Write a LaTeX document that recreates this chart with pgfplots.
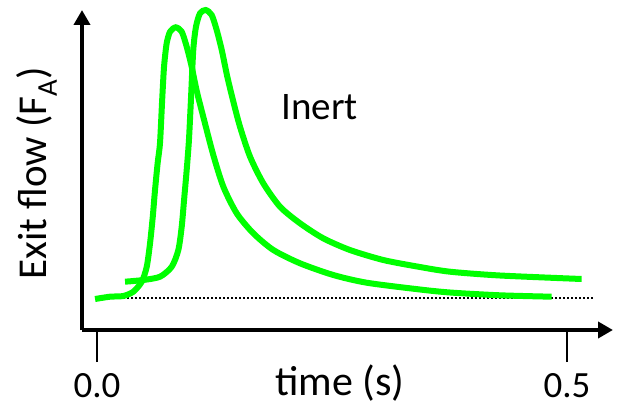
\documentclass[border=0pt]{standalone}
\usepackage{fontspec}
\setmainfont{Carlito}
\usepackage{pgfplots}
\pgfplotsset{compat=1.18}
\usetikzlibrary{arrows.meta}
\definecolor{brightgreen}{RGB}{0,255,0}
\begin{document}
\begin{tikzpicture}
\begin{axis}[
  scale only axis,
  width=531pt, height=320pt,
  xmin=-0.016, xmax=0.549,
  ymin=-32, ymax=288,
  axis lines=left,
  axis line style={line width=4pt, black},
  x axis line style={-{Triangle[width=16pt,length=15pt]}},
  y axis line style={-{Triangle[width=16pt,length=15pt]}},
  xtick={0,0.5},
  xticklabels={0.0,0.5},
  ytick=\empty,
  tick align=outside,
  major tick length=32pt,
  xtick style={line width=2pt, black},
  xticklabel style={anchor=center, yshift=-24pt, font=\fontsize{37}{40}\selectfont},
  xlabel={time (s)},
  xlabel style={at={(axis description cs:0.486,0)}, anchor=center, yshift=-53pt, font=\fontsize{42}{46}\selectfont},
  ylabel={Exit flow (F\textsubscript{A})},
  ylabel style={at={(axis description cs:-0.085,0.49)}, anchor=center, font=\fontsize{41}{44}\selectfont},
  clip=false,
]
\addplot[black, line width=2pt, dash pattern=on 2pt off 2pt] coordinates {(-0.002,0) (0.528,0)};
\addplot[brightgreen, line width=6pt, smooth, tension=0.45] coordinates {
(-0.0021,-1) (0.0138,1.3) (0.028,2) (0.0386,6.3) (0.0476,16.3) (0.0529,31.3)
(0.0564,54.7) (0.0593,81.3) (0.0617,108) (0.0645,135) (0.067,155) (0.0693,198)
(0.0713,231.3) (0.0741,254.7) (0.0777,266.3) (0.0837,270.7) (0.0901,266.3)
(0.0954,251.3) (0.1007,231.3) (0.1061,207) (0.1131,181) (0.1237,143)
(0.1344,111.3) (0.1486,84.7) (0.1663,64.7) (0.1876,48) (0.216,34.7)
(0.2514,23) (0.2869,15.3) (0.3418,8.7) (0.3755,5.5) (0.4287,2.7) (0.4837,1.3)
};
\addplot[brightgreen, line width=6pt, smooth, tension=0.45] coordinates {
(0.0298,16.3) (0.0493,18) (0.067,21.3) (0.0795,31.3) (0.0865,48) (0.0901,71.3)
(0.0926,98) (0.0954,128) (0.0978,158) (0.0999,198) (0.1024,248) (0.1053,271.3)
(0.1096,284.7) (0.1156,288) (0.122,283) (0.1273,268) (0.1327,248)
(0.1386,221.3) (0.145,196.5) (0.1521,171.3) (0.1628,141.3) (0.1769,114.7)
(0.1947,91.3) (0.216,74.7) (0.2407,59.7) (0.2691,48) (0.3046,38)
(0.3418,31.3) (0.3755,26.3) (0.4287,22.5) (0.5156,19)
};
\node[font=\fontsize{39}{42}\selectfont] at (axis cs:0.237,191) {Inert};
\end{axis}
\path[use as bounding box] ([xshift=-82pt,yshift=-80pt]current axis.south west) rectangle ([xshift=8pt,yshift=10pt]current axis.north east);
\end{tikzpicture}
\end{document}
